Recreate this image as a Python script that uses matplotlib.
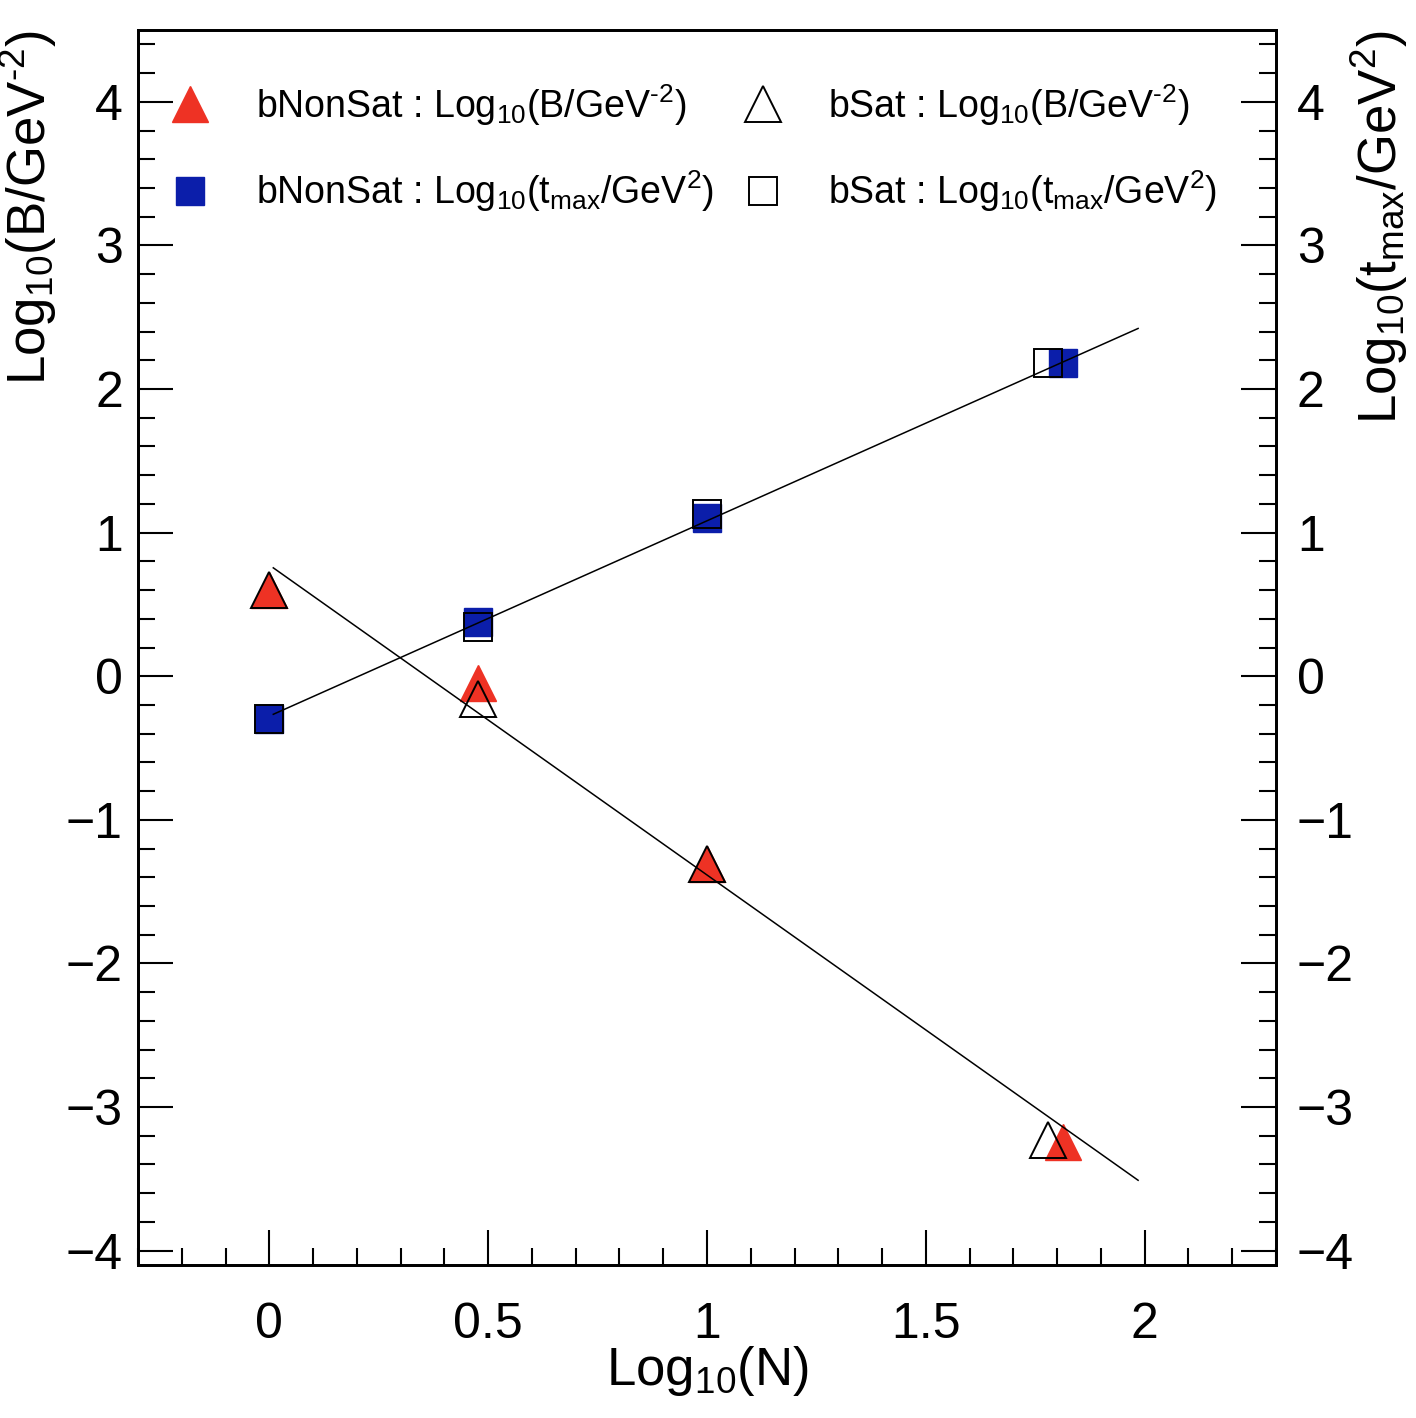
import matplotlib
matplotlib.use("Agg")
import matplotlib.pyplot as plt
from matplotlib.ticker import MultipleLocator
from matplotlib.lines import Line2D

plt.rcParams['font.family'] = ['Liberation Sans', 'DejaVu Sans']
plt.rcParams['mathtext.fontset'] = 'custom'
plt.rcParams['mathtext.rm'] = 'Liberation Sans'
plt.rcParams['mathtext.it'] = 'Liberation Sans'
plt.rcParams['mathtext.default'] = 'rm'

# log10(N) positions
x_nonsat = [0.0, 0.477, 1.0, 1.814]
x_sat = [0.0, 0.477, 1.0, 1.778]

# log10(B/GeV^-2)
B_nonsat = [0.60, -0.05, -1.31, -3.24]
B_sat = [0.60, -0.16, -1.31, -3.23]

# log10(tmax/GeV^2)
t_nonsat = [-0.30, 0.38, 1.10, 2.18]
t_sat = [-0.30, 0.34, 1.13, 2.18]

# fitted lines (end points)
fit_x = [0.009, 1.985]
fit_B = [0.755, -3.51]
fit_t = [-0.265, 2.422]

red = '#ee3224'
blue = '#0b1eaa'

fig = plt.figure(figsize=(14.16, 14.18), dpi=100)
ax = fig.add_axes([0.0975, 0.1079, 0.8036, 0.8709])

ax.plot(x_nonsat, B_nonsat, '^', ms=26, color=red, mec=red, ls='none', zorder=3)
ax.plot(x_nonsat, t_nonsat, 's', ms=20, color=blue, mec=blue, ls='none', zorder=3)
ax.plot(x_sat, B_sat, '^', ms=26, mfc='none', mec='black', mew=1.4, ls='none', zorder=4)
ax.plot(x_sat, t_sat, 's', ms=20, mfc='none', mec='black', mew=1.4, ls='none', zorder=4)
ax.plot(fit_x, fit_B, '-', color='black', lw=1.1, zorder=5)
ax.plot(fit_x, fit_t, '-', color='black', lw=1.1, zorder=5)

ax.set_xlim(-0.3, 2.3)
ax.set_ylim(-4.1, 4.5)

for s in ax.spines.values():
    s.set_linewidth(2)

ax.xaxis.set_major_locator(MultipleLocator(0.5))
ax.xaxis.set_minor_locator(MultipleLocator(0.1))
ax.yaxis.set_major_locator(MultipleLocator(1))
ax.yaxis.set_minor_locator(MultipleLocator(0.2))
ax.set_xticks([0, 0.5, 1, 1.5, 2])
ax.set_xticklabels(['0', '0.5', '1', '1.5', '2'])

ax.tick_params(which='both', direction='in', top=False, right=False, width=1.5, labelsize=36)
ax.tick_params(which='major', length=25)
ax.tick_params(which='minor', length=12)
ax.tick_params(axis='x', pad=27)
ax.tick_params(axis='y', pad=11)

ax2 = ax.twinx()
ax2.set_ylim(ax.get_ylim())
ax2.yaxis.set_major_locator(MultipleLocator(1))
ax2.yaxis.set_minor_locator(MultipleLocator(0.2))
ax2.tick_params(which='both', direction='in', width=1.5, labelsize=36, pad=15)
ax2.tick_params(which='major', length=25)
ax2.tick_params(which='minor', length=12)
for s in ax2.spines.values():
    s.set_linewidth(2)

ax.text(0.5, -0.0972, r'Log$_{10}$(N)', transform=ax.transAxes, ha='center', va='baseline', fontsize=38)
ax.text(-0.0965, 1.0, r'Log$_{10}$(B/GeV$^{\text{-2}}$)', transform=ax.transAxes,
        rotation=90, ha='center', va='top', fontsize=38)
ax.text(1.0905, 1.0, r'Log$_{10}$(t$_{max}$/GeV$^{2}$)', transform=ax.transAxes,
        rotation=90, ha='center', va='top', fontsize=38)

h1 = Line2D([], [], marker='^', ms=26, color=red, mec=red, ls='none')
h2 = Line2D([], [], marker='s', ms=20, color=blue, mec=blue, ls='none')
h3 = Line2D([], [], marker='^', ms=26, mfc='none', mec='black', mew=1.4, ls='none')
h4 = Line2D([], [], marker='s', ms=20, mfc='none', mec='black', mew=1.4, ls='none')

lab1 = r'bNonSat : Log$_{10}$(B/GeV$^{\text{-2}}$)'
lab2 = r'bNonSat : Log$_{10}$(t$_{max}$/GeV$^{2}$)'
lab3 = r'bSat : Log$_{10}$(B/GeV$^{\text{-2}}$)'
lab4 = r'bSat : Log$_{10}$(t$_{max}$/GeV$^{2}$)'

leg_kw = dict(loc='upper left', frameon=False, fontsize=27, handlelength=1.0,
              handletextpad=1.25, borderpad=0, borderaxespad=0, labelspacing=1.08, numpoints=1)
leg1 = ax2.legend([h1, h2], [lab1, lab2], bbox_to_anchor=(0.0294, 0.958), **leg_kw)
ax2.add_artist(leg1)
ax2.legend([h3, h4], [lab3, lab4], bbox_to_anchor=(0.5325, 0.958), **leg_kw)

fig.savefig('out.png', dpi=100)
